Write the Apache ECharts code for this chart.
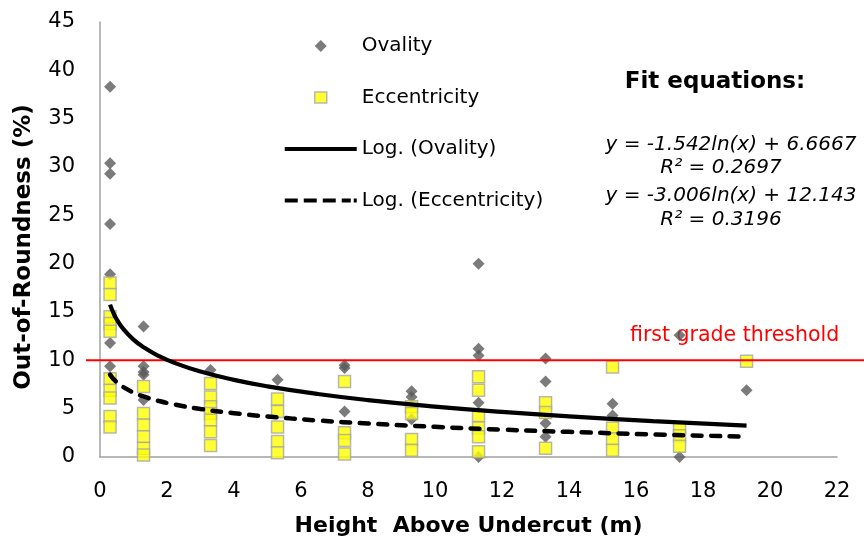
<!DOCTYPE html>
<html><head><meta charset="utf-8">
<script src="https://cdn.jsdelivr.net/npm/echarts@6/dist/echarts.min.js"></script>
<style>html,body{margin:0;padding:0;background:#fff}#c{width:864px;height:544px}</style>
</head><body><div id="c"></div>
<script>
// ---- data ----
const ovalityX = [0.3,0.3,0.3,0.3,0.3,0.3,0.3, 1.3,1.3,1.3,1.3,1.3, 3.3, 5.3, 7.3,7.3,7.3, 9.3,9.3,9.3, 11.3,11.3,11.3,11.3,11.3, 13.3,13.3,13.3,13.3, 15.3,15.3, 17.3,17.3, 19.3];
const ovalityY = [38.3,30.4,29.3,24.1,18.9,11.8,9.4, 13.5,9.4,8.8,8.5,5.9, 9.0, 8.0, 9.5,9.2,4.7, 6.8,6.2,3.9, 20.0,11.2,10.5,5.6,0.0, 10.2,7.8,3.5,2.1, 5.5,4.3, 12.6,0.0, 6.9];
const eccX = [0.3,0.3,0.3,0.3,0.3,0.3,0.3,0.3,0.3,0.3, 1.3,1.3,1.3,1.3,1.3,1.3, 3.3,3.3,3.3,3.3,3.3,3.3,3.3, 5.3,5.3,5.3,5.3,5.3, 7.3,7.3,7.3,7.3, 9.3,9.3,9.3,9.3, 11.3,11.3,11.3,11.3,11.3,11.3, 13.3,13.3,13.3, 15.3,15.3,15.3,15.3, 17.3,17.3,17.3, 19.3];
const eccY = [18.0,16.8,14.5,13.8,13.0,8.1,6.9,6.1,4.2,3.1, 7.3,4.5,3.3,2.1,0.9,0.2, 7.6,6.2,5.2,4.5,3.8,2.6,1.2, 6.0,4.7,3.1,1.6,0.45, 7.8,2.5,1.7,0.3, 5.2,4.5,1.8,0.7, 8.3,6.9,4.3,3.0,2.1,0.55, 5.6,4.6,0.9, 9.3,3.0,1.9,0.7, 3.0,2.2,1.1, 9.9];
// trend curves
const fitX = [0.3,0.4,0.5,0.7,1,1.3,1.7,2.2,3,4,5,6.5,8,10,12,14,16.5,19.3];
const fitSolid = [15.76,14.90,14.23,13.22,12.14,11.36,10.55,9.77,8.84,7.98,7.31,6.52,5.89,5.22,4.67,4.21,3.72,3.25];
const fitDashed = [8.52,8.08,7.74,7.22,6.67,6.26,5.85,5.45,4.97,4.53,4.19,3.78,3.46,3.12,2.83,2.60,2.34,2.10];
const thresholdValue = 10;
const thresholdX = [0, 1];
const xMin = 0, xMax = 22, xStep = 2;
const yMin = 0, yMax = 45, yStep = 5;
const legendNames = ['Ovality', 'Eccentricity', 'Log. (Ovality)', 'Log. (Eccentricity)'];
const eqLines = ['y = -1.542ln(x) + 6.6667', 'R² = 0.2697', 'y = -3.006ln(x) + 12.143', 'R² = 0.3196'];

const FONT = 'DejaVu Sans';
const zip = (a, b) => a.map((v, i) => [v, b[i]]);
// legend icons: the leading moves fix the 72x12 icon box so the shapes keep their size
const BOX = 'M0 0M72 12';
const icons = {
  diamond: 'path://' + BOX + 'M36 0L42 6L36 12L30 6Z',
  square: 'path://' + BOX + 'M30 0.5H42V11.5H30Z',
  solid: 'path://' + BOX + 'M0 4H72V8H0Z',
  dashed: 'path://' + BOX + 'M0 4H13V8H0ZM19 4H32V8H19ZM38 4H51V8H38ZM57 4H66V8H57ZM69 4H72V8H69Z'
};

const chart = echarts.init(document.getElementById('c'), null, {renderer: 'canvas'});
chart.setOption({
  animation: false,
  backgroundColor: '#fff',
  textStyle: {fontFamily: FONT},
  grid: [
    {left: 100, right: 27, top: 22, bottom: 87},
    {left: 86, right: 0, top: 22, bottom: 87}
  ],
  xAxis: [{
    type: 'value', gridIndex: 0, min: xMin, max: xMax, interval: xStep,
    axisLine: {lineStyle: {color: '#a0a0a0', width: 1.5}},
    axisTick: {show: false}, splitLine: {show: false},
    axisLabel: {fontSize: 21, color: '#000', margin: 24, fontFamily: FONT},
    name: 'Height  Above Undercut (m)', nameLocation: 'middle', nameGap: 58,
    nameTextStyle: {fontSize: 22, fontWeight: 'bold', color: '#000', fontFamily: FONT}
  }, {
    type: 'value', gridIndex: 1, min: 0, max: 1, show: false
  }],
  yAxis: [{
    type: 'value', gridIndex: 0, min: yMin, max: yMax, interval: yStep,
    axisLine: {show: true, lineStyle: {color: '#a0a0a0', width: 1.5}},
    axisTick: {show: false}, splitLine: {show: false},
    axisLabel: {fontSize: 21, color: '#000', margin: 25, fontFamily: FONT},
    name: 'Out-of-Roundness (%)', nameLocation: 'middle', nameGap: 64,
    nameTextStyle: {fontSize: 23, fontWeight: 'bold', color: '#000', fontFamily: FONT, padding: [0, 15, 0, 0]}
  }, {
    type: 'value', gridIndex: 1, min: yMin, max: yMax, show: false
  }],
  legend: {
    orient: 'vertical', left: 279, top: 29,
    itemWidth: 72, itemHeight: 12, itemGap: 27.5,
    textStyle: {fontSize: 20, color: '#000', fontFamily: FONT, lineHeight: 24},
    data: [
      {name: legendNames[0], icon: icons.diamond, itemStyle: {color: '#5a5a5a', borderWidth: 0}},
      {name: legendNames[1], icon: icons.square, itemStyle: {color: '#ffff00', borderColor: '#a6a6a6', borderWidth: 1.5}},
      {name: legendNames[2], icon: icons.solid, itemStyle: {color: '#000', borderWidth: 0}},
      {name: legendNames[3], icon: icons.dashed, itemStyle: {color: '#000', borderWidth: 0}}
    ]
  },
  series: [
    {
      name: legendNames[0], type: 'scatter', xAxisIndex: 0, yAxisIndex: 0, clip: false,
      symbol: 'diamond', symbolSize: 12,
      itemStyle: {color: '#5a5a5a'},
      data: zip(ovalityX, ovalityY), z: 2
    },
    {
      name: legendNames[1], type: 'scatter', xAxisIndex: 0, yAxisIndex: 0, clip: false,
      symbol: 'rect', symbolSize: 12,
      itemStyle: {color: '#ffff00', borderColor: '#a6a6a6', borderWidth: 1.5},
      data: zip(eccX, eccY), z: 3
    },
    {
      name: legendNames[2], type: 'line', xAxisIndex: 0, yAxisIndex: 0,
      symbol: 'none', smooth: true,
      lineStyle: {color: '#000', width: 4.2},
      itemStyle: {color: '#000'},
      data: zip(fitX, fitSolid), z: 5
    },
    {
      name: legendNames[3], type: 'line', xAxisIndex: 0, yAxisIndex: 0,
      symbol: 'none', smooth: true,
      lineStyle: {color: '#000', width: 4.5, type: [9, 9.5], cap: 'round'},
      itemStyle: {color: '#000'},
      data: zip(fitX, fitDashed), z: 5
    },
    {
      name: 'threshold', type: 'line', xAxisIndex: 1, yAxisIndex: 1,
      symbol: 'none', silent: true,
      lineStyle: {color: '#ff0000', width: 2},
      data: thresholdX.map(x => [x, thresholdValue]), z: 4
    }
  ],
  graphic: [
    {type: 'text', x: 715, y: 82, style: {text: 'Fit equations:', fontSize: 23, fontWeight: 'bold', fontFamily: FONT, fill: '#000', align: 'center', verticalAlign: 'middle'}},
    {type: 'text', x: 731, y: 145, style: {text: eqLines[0], fontSize: 20, fontStyle: 'italic', fontFamily: FONT, fill: '#000', align: 'center', verticalAlign: 'middle'}},
    {type: 'text', x: 721, y: 168, style: {text: eqLines[1], fontSize: 20, fontStyle: 'italic', fontFamily: FONT, fill: '#000', align: 'center', verticalAlign: 'middle'}},
    {type: 'text', x: 731, y: 196, style: {text: eqLines[2], fontSize: 20, fontStyle: 'italic', fontFamily: FONT, fill: '#000', align: 'center', verticalAlign: 'middle'}},
    {type: 'text', x: 721, y: 220, style: {text: eqLines[3], fontSize: 20, fontStyle: 'italic', fontFamily: FONT, fill: '#000', align: 'center', verticalAlign: 'middle'}},
    {type: 'text', x: 630, y: 336, style: {text: 'first grade threshold', fontSize: 20.5, fontFamily: FONT, fill: '#ff0000', align: 'left', verticalAlign: 'middle'}}
  ]
});
</script></body></html>
